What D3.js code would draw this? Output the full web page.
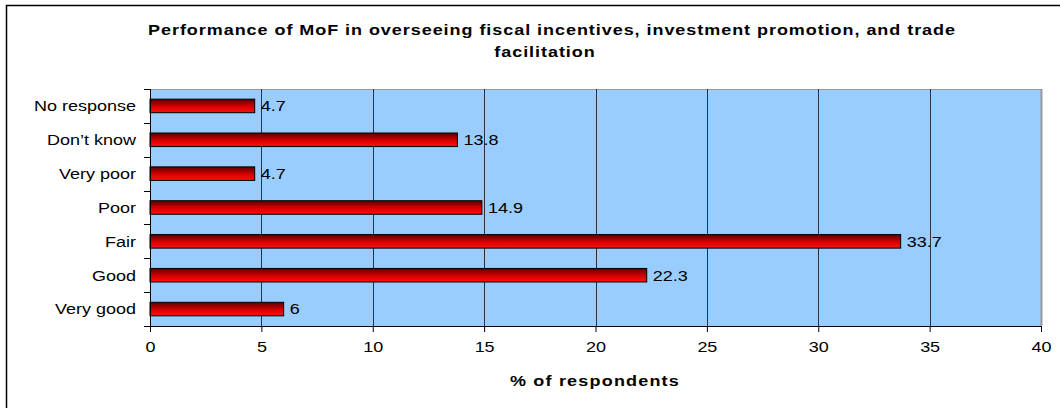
<!DOCTYPE html>
<html lang="en">
<head>
	<meta charset="UTF-8"/>
	<title>Performance of MoF</title>
	<script src="https://d3js.org/d3.v7.min.js"></script>
	<style>
		body { margin: 0; background: #fff; }
		svg text { font-family: "Liberation Sans", Arial, sans-serif; fill: #000; }
	</style>
</head>
<body>
	<script>
		var categories = ["No response", "Don\u2019t know", "Very poor", "Poor", "Fair", "Good", "Very good"];
		var values = [4.7, 13.8, 4.7, 14.9, 33.7, 22.3, 6];
		var xTicks = [0, 5, 10, 15, 20, 25, 30, 35, 40];

		var w = 1060, h = 408;
		var plotLeft = 150, plotRight = 1041, plotTop = 89, plotBottom = 326;
		var stretch = "scale(1.2,1)"; // the source text is drawn wide

		var svg = d3.select("body").append("svg").attr("width", w).attr("height", h);

		// outer frame (only top and left edges show)
		svg.append("path").attr("d", "M6.5,408 V5.5 H1060")
			.attr("fill", "none").attr("stroke", "#000").attr("stroke-width", 1.5);

		var defs = svg.append("defs");
		var grad = defs.append("linearGradient").attr("id", "barGrad")
			.attr("x1", 0).attr("y1", 0).attr("x2", 0).attr("y2", 1);
		grad.append("stop").attr("offset", "0%").attr("stop-color", "#5a0000");
		grad.append("stop").attr("offset", "55%").attr("stop-color", "#d80000");
		grad.append("stop").attr("offset", "100%").attr("stop-color", "#ff1010");

		var xScale = d3.scaleLinear().domain([0, 40]).range([plotLeft, plotRight]);
		var yScale = d3.scaleBand().domain(categories).range([plotTop, plotBottom]).paddingInner(0.6).paddingOuter(0.3);
		var yBand = d3.scaleBand().domain(categories).range([plotTop, plotBottom]);

		// plot background
		svg.append("rect").attr("x", plotLeft).attr("y", plotTop)
			.attr("width", plotRight - plotLeft).attr("height", plotBottom - plotTop)
			.attr("fill", "#99ccff");
		svg.append("line").attr("x1", plotLeft).attr("x2", plotRight).attr("y1", plotTop + 0.5).attr("y2", plotTop + 0.5)
			.attr("stroke", "#999").attr("stroke-width", 1);
		svg.append("line").attr("x1", plotRight + 0.5).attr("x2", plotRight + 0.5).attr("y1", plotTop).attr("y2", plotBottom)
			.attr("stroke", "#999").attr("stroke-width", 2);

		// gridlines
		svg.selectAll("line.grid").data(xTicks.slice(1, -1)).enter().append("line")
			.attr("class", "grid")
			.attr("x1", function(d){ return Math.round(xScale(d)) + 0.5; })
			.attr("x2", function(d){ return Math.round(xScale(d)) + 0.5; })
			.attr("y1", plotTop).attr("y2", plotBottom)
			.attr("stroke", "#2a3140").attr("stroke-width", 1);

		// bars
		svg.selectAll("rect.bar").data(values).enter().append("rect")
			.attr("class", "bar")
			.attr("x", plotLeft)
			.attr("y", function(d, i){ return yScale(categories[i]); })
			.attr("width", function(d){ return xScale(d) - plotLeft; })
			.attr("height", yScale.bandwidth())
			.attr("fill", "url(#barGrad)")
			.attr("stroke", "#000").attr("stroke-width", 1);

		// value labels
		svg.selectAll("text.val").data(values).enter().append("text")
			.attr("class", "val")
			.attr("transform", function(d, i){
				return "translate(" + (xScale(d) + 6) + "," + (yScale(categories[i]) + yScale.bandwidth() / 2) + ")" + stretch;
			})
			.attr("dy", "0.36em")
			.attr("font-size", "15px")
			.text(function(d){ return d; });

		// x axis
		var xAxis = d3.axisBottom(xScale).tickValues(xTicks).tickSize(6).tickPadding(9).tickFormat(d3.format("d"));
		var gx = svg.append("g").attr("transform", "translate(0," + plotBottom + ")").call(xAxis);
		gx.select(".domain").attr("d", "M" + plotLeft + ",0.5H" + plotRight).attr("stroke", "#000");
		gx.selectAll(".tick line").attr("stroke", "#000");
		gx.selectAll(".tick text").attr("font-size", "15px").attr("font-family", "Liberation Sans, Arial, sans-serif")
			.attr("transform", stretch);

		// y axis: ticks at category boundaries
		var gy = svg.append("g");
		gy.append("line").attr("x1", plotLeft + 0.5).attr("x2", plotLeft + 0.5).attr("y1", plotTop).attr("y2", plotBottom + 6)
			.attr("stroke", "#000");
		var bounds = categories.map(function(c){ return yBand(c); }).concat([plotBottom]);
		gy.selectAll("line.yt").data(bounds).enter().append("line")
			.attr("class", "yt")
			.attr("x1", plotLeft - 6).attr("x2", plotLeft)
			.attr("y1", function(d){ return Math.round(d) + 0.5; })
			.attr("y2", function(d){ return Math.round(d) + 0.5; })
			.attr("stroke", "#000");
		gy.selectAll("text").data(categories).enter().append("text")
			.attr("transform", function(c){
				return "translate(136," + (yBand(c) + yBand.bandwidth() / 2) + ")" + stretch;
			})
			.attr("dy", "0.36em")
			.attr("text-anchor", "end")
			.attr("font-size", "15px")
			.text(function(c){ return c; });

		// title
		svg.append("text").attr("transform", "translate(552,35)" + stretch)
			.attr("text-anchor", "middle").attr("font-size", "15px")
			.attr("font-weight", "bold").attr("letter-spacing", "0.8px")
			.text("Performance of MoF in overseeing fiscal incentives, investment promotion, and trade");
		svg.append("text").attr("transform", "translate(545,57)" + stretch)
			.attr("text-anchor", "middle").attr("font-size", "15px")
			.attr("font-weight", "bold").attr("letter-spacing", "0.8px")
			.text("facilitation");

		// x axis title
		svg.append("text").attr("transform", "translate(595,386)" + stretch)
			.attr("text-anchor", "middle")
			.attr("font-size", "15px").attr("font-weight", "bold").attr("letter-spacing", "1px")
			.text("% of respondents");
	</script>
</body>
</html>
